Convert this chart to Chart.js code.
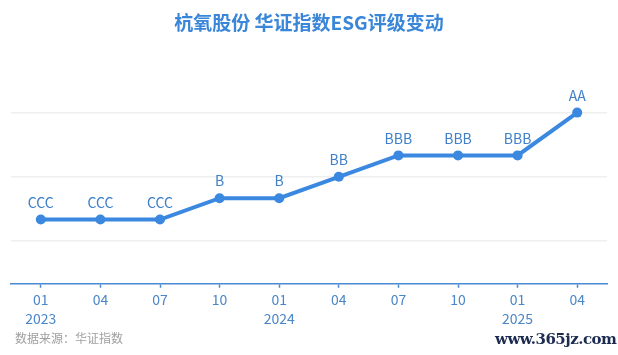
<!DOCTYPE html>
<html>
<head>
<meta charset="utf-8">
<script src="https://cdn.jsdelivr.net/npm/chart.js@4"></script>
<style>
  html, body { margin: 0; padding: 0; background: #fff; }
  #wrap { position: relative; width: 618px; height: 355px; }
  #source { position: absolute; left: 15px; top: 329px; font: 12px "Noto Sans CJK SC", sans-serif; color: #a0a0a0; }
  #mark { position: absolute; left: 495px; top: 330px; font: bold 15px "DejaVu Serif", serif; color: #1c2b50; letter-spacing: -0.5px; }
</style>
</head>
<body>
<div id="wrap">
  <canvas id="chart" width="618" height="355"></canvas>
  <div id="source">数据来源：华证指数</div>
  <div id="mark">www.365jz.com</div>
</div>
<script>
const months = ["01", "04", "07", "10", "01", "04", "07", "10", "01", "04"];
const years = ["2023", "", "", "", "2024", "", "", "", "2025", ""];
const ratings = ["CCC", "CCC", "CCC", "B", "B", "BB", "BBB", "BBB", "BBB", "AA"];
const ratingScale = ["C", "CC", "CCC", "B", "BB", "BBB", "A", "AA", "AAA"];
const gridLevels = ["CC", "BB", "AA"];

const blue = "#3a88e0";
const font = '"Noto Sans CJK SC", "Noto Sans", sans-serif';

// rating label above every point
const ratingLabels = {
  id: "ratingLabels",
  afterDatasetsDraw(chart) {
    const ctx = chart.ctx;
    const meta = chart.getDatasetMeta(0);
    ctx.save();
    ctx.font = "14px " + font;
    ctx.fillStyle = "#3f80c8";
    ctx.textAlign = "center";
    ctx.textBaseline = "middle";
    meta.data.forEach((pt, i) => {
      ctx.fillText(ratings[i], pt.x, pt.y - 17);
    });
    ctx.restore();
  },
};

new Chart(document.getElementById("chart"), {
  type: "line",
  data: {
    labels: months.map((m, i) => (years[i] ? [m, years[i]] : [m, ""])),
    datasets: [
      {
        data: ratings.map((r) => ratingScale.indexOf(r)),
        borderColor: blue,
        backgroundColor: blue,
        borderWidth: 4,
        pointRadius: 5,
        pointBackgroundColor: blue,
        pointBorderWidth: 0,
        tension: 0,
      },
    ],
  },
  options: {
    responsive: false,
    animation: false,
    layout: { padding: { left: 11, right: 11, bottom: 24, top: 0 } },
    plugins: {
      legend: { display: false },
      tooltip: { enabled: false },
      title: {
        display: true,
        text: "杭氧股份 华证指数ESG评级变动",
        color: "#3a86d8",
        font: { family: font, size: 19, weight: "bold" },
        padding: { top: 11, bottom: 36 },
      },
    },
    scales: {
      x: {
        offset: true,
        grid: { offset: false, drawOnChartArea: false, tickLength: 4, tickColor: "#4a8ad0", tickWidth: 1.5 },
        border: { color: "#4a8ad0", width: 1.5 },
        ticks: { color: "#4a86c8", padding: 3, font: { family: font, size: 14, lineHeight: 1.33 }, maxRotation: 0, autoSkip: false },
      },
      y: {
        min: -1,
        max: 9,
        afterBuildTicks: (scale) => {
          scale.ticks = gridLevels.map((g) => ({ value: ratingScale.indexOf(g) }));
        },
        grid: { color: "#efefef", lineWidth: 1.5, drawTicks: false },
        border: { display: false },
        ticks: { display: false },
      },
    },
  },
  plugins: [ratingLabels],
});
</script>
</body>
</html>
